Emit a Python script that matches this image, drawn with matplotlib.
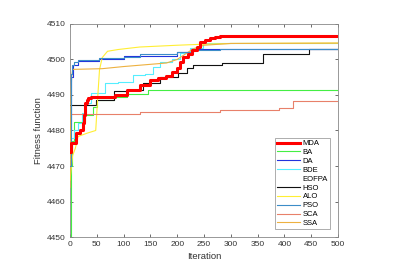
import matplotlib
matplotlib.use("Agg")
import matplotlib.pyplot as plt

plt.rcParams["font.family"] = ["Liberation Sans", "DejaVu Sans"]

# ---- data (iteration breakpoints, fitness values) ----
mda_it = [0, 2, 12, 18, 24, 26, 28, 31, 34, 40, 84, 106, 130, 149, 165, 180, 190, 199, 205, 211, 220, 228, 237, 243, 252, 261, 270, 280, 500]
mda_v = [4474, 4476.5, 4479.2, 4480, 4482, 4484.4, 4487.7, 4488.6, 4489.2, 4489.5, 4490, 4491.4, 4492.8, 4494.2, 4494.8, 4495.3, 4496.5, 4497.6, 4499.4, 4500.8, 4501.5, 4502.6, 4503.5, 4504.8, 4505.5, 4506, 4506.3, 4506.6, 4506.6]

ba_it = [0, 1, 2, 3, 7, 18, 28, 42, 50, 83, 106, 146, 200, 500]
ba_v = [4450, 4462, 4470, 4476.9, 4482.5, 4482.5, 4484.4, 4486.7, 4488.6, 4489.5, 4490.2, 4491.3, 4491.5, 4491.5]

da_it = [0, 2, 5, 15, 55, 100, 200, 230, 500]
da_v = [4480, 4495, 4498.5, 4499.5, 4500.2, 4501, 4502, 4502.8, 4502.9]

bde_it = [0, 2, 8, 15, 22, 30, 40, 65, 90, 118, 140, 155, 168, 190, 205, 224, 248, 500]
bde_v = [4472, 4478, 4480, 4482, 4485, 4487.7, 4490.5, 4493.5, 4493.6, 4495.6, 4496, 4498, 4499.4, 4500, 4501.7, 4503.1, 4504.6, 4504.8]

eofpa_it = []
eofpa_v = []

hso_it = [0, 48, 83, 110, 137, 168, 201, 218, 230, 283, 360, 446, 500]
hso_v = [4487.2, 4488.6, 4491.1, 4491.5, 4493.4, 4495, 4496.2, 4497.5, 4498.3, 4499, 4501.5, 4502.9, 4502.9]

alo_it = [0, 2, 5, 10, 15, 33, 48, 52, 55, 60, 70, 90, 130, 200, 250, 300, 500]
alo_v = [4466, 4469, 4473, 4475, 4478.3, 4479.3, 4480, 4490, 4497, 4500.5, 4502.3, 4502.8, 4503.5, 4504, 4504.3, 4504.5, 4504.6]

pso_it = [0, 1, 2, 4, 8, 15, 55, 100, 130, 200, 230, 280, 500]
pso_v = [4470, 4490, 4496, 4498.5, 4499.4, 4499.9, 4500.3, 4500.8, 4501.5, 4502.2, 4502.7, 4502.9, 4502.9]

sca_it = [0, 130, 280, 389, 416, 500]
sca_v = [4484.7, 4485.2, 4485.8, 4486.3, 4488.4, 4488.4]

ssa_it = [0, 1, 2, 3, 5, 60, 100, 180, 200, 215, 230, 250, 300, 500]
ssa_v = [4464, 4480, 4490, 4495, 4497.2, 4497.4, 4498, 4499, 4500, 4501.5, 4503, 4504, 4504.5, 4504.6]

labels = ["MDA", "BA", "DA", "BDE", "EOFPA", "HSO", "ALO", "PSO", "SCA", "SSA"]
x_ticks = [0, 50, 100, 150, 200, 250, 300, 350, 400, 450, 500]
y_ticks = [4450, 4460, 4470, 4480, 4490, 4500, 4510]

fig = plt.figure(figsize=(4, 2.75), dpi=100)
ax = fig.add_axes([0.175, 0.138, 0.67, 0.775])

series = [
    (mda_it, mda_v, "#FF0000", 2.2, "steps-post", 10),
    (ba_it, ba_v, "#44EE44", 0.8, "steps-post", 3),
    (da_it, da_v, "#2233DD", 0.8, "steps-post", 3),
    (bde_it, bde_v, "#55EEFF", 0.8, "steps-post", 3),
    (eofpa_it, eofpa_v, "#FFFFFF", 0.8, "default", 3),
    (hso_it, hso_v, "#111111", 0.8, "steps-post", 3),
    (alo_it, alo_v, "#FFEE33", 0.8, "default", 3),
    (pso_it, pso_v, "#3C8DC8", 0.8, "steps-post", 4),
    (sca_it, sca_v, "#E8806A", 0.8, "steps-post", 3),
    (ssa_it, ssa_v, "#EDB140", 0.8, "default", 3),
]
for (xs, ys, c, lw, ds, z), lab in zip(series, labels):
    ax.plot(xs, ys, color=c, lw=lw, drawstyle=ds, label=lab, zorder=z)

ax.set_xlim(0, 500)
ax.set_ylim(4450, 4510)
ax.set_xticks(x_ticks)
ax.set_yticks(y_ticks)
ax.tick_params(direction="in", top=True, right=True, labelsize=6, colors="#555555",
               labelcolor="#333333", length=2.5, width=0.6, pad=3)
for s in ax.spines.values():
    s.set_color("#888888")
    s.set_linewidth(0.6)
ax.set_xlabel("Iteration", fontsize=6.8, color="#333333", labelpad=3)
ax.set_ylabel("Fitness function", fontsize=6.8, color="#333333", labelpad=3)

leg = ax.legend(loc="lower right", fontsize=5.5, frameon=True, fancybox=False,
                edgecolor="#888888", handlelength=3.0, handletextpad=0.35,
                labelspacing=0.2, borderpad=0.3, borderaxespad=1.0)
leg.get_frame().set_linewidth(0.6)

fig.savefig("out.png", dpi=100)
